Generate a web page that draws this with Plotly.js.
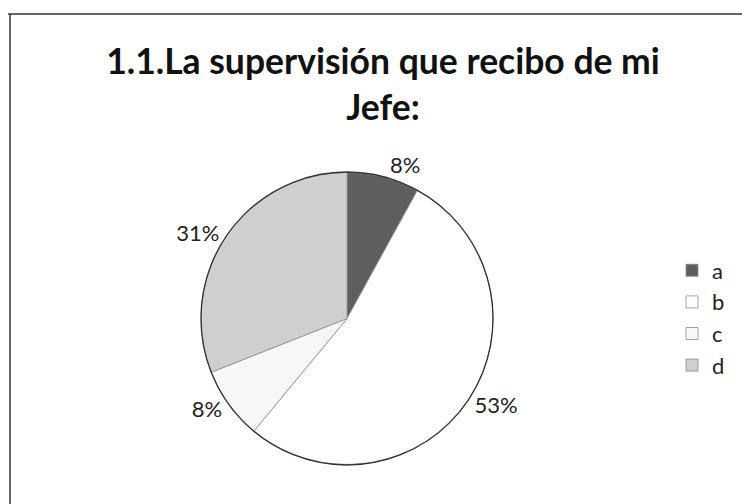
<!DOCTYPE html>
<html>
<head>
<meta charset="utf-8">
<script src="https://cdn.plot.ly/plotly-3.0.1.min.js"></script>
<style>html,body{margin:0;padding:0;background:#fff;}</style>
</head>
<body>
<div id="chart" style="width:742px;height:504px;"></div>
<script>
var categories = ['a', 'b', 'c', 'd'];
var percentages = [8, 53, 8, 31];
var sliceColors = ['#5e5e5e', '#ffffff', '#f7f7f7', '#cfcfcf'];
var chartTitle = '1.1.La supervisión que recibo de mi<br>Jefe:';

var pieDomainX = [201 / 742, 493 / 742];
var pieDomainY = [1 - 465 / 504, 1 - 172 / 504];

var trace = {
  type: 'pie',
  labels: categories,
  values: percentages,
  sort: false,
  direction: 'clockwise',
  rotation: 0,
  textinfo: 'percent',
  texttemplate: '%{percent:.0%}',
  textposition: 'outside',
  textfont: {family: 'Lato, "Open Sans", sans-serif', size: 22, color: '#222'},
  marker: {colors: sliceColors, line: {color: '#8a8a8a', width: 0.8}},
  domain: {x: pieDomainX, y: pieDomainY},
  hoverinfo: 'label+percent'
};

var layout = {
  width: 742,
  height: 504,
  margin: {l: 0, r: 0, t: 0, b: 0},
  paper_bgcolor: '#ffffff',
  plot_bgcolor: '#ffffff',
  title: {
    text: chartTitle,
    font: {family: 'Lato, "Open Sans", sans-serif', size: 35.5, color: '#111', weight: 'bold'},
    x: 383 / 742,
    xanchor: 'center',
    y: 1 - 74 / 504,
    yanchor: 'middle'
  },
  showlegend: true,
  legend: {
    x: 672 / 742,
    xanchor: 'left',
    y: 1 - 318 / 504,
    yanchor: 'middle',
    font: {family: 'Lato, "Open Sans", sans-serif', size: 22, color: '#222'},
    bgcolor: 'rgba(0,0,0,0)'
  },
  shapes: [
    {type: 'circle', xref: 'paper', yref: 'paper',
     x0: pieDomainX[0], x1: pieDomainX[1], y0: pieDomainY[0], y1: pieDomainY[1],
     line: {color: '#333', width: 1.3}},
    {type: 'line', xref: 'paper', yref: 'paper', x0: 8 / 742, x1: 1, y0: 1 - 14 / 504, y1: 1 - 14 / 504,
     line: {color: '#333', width: 1.5}},
    {type: 'line', xref: 'paper', yref: 'paper', x0: 10 / 742, x1: 10 / 742, y0: 0, y1: 1 - 14 / 504,
     line: {color: '#333', width: 1.5}}
  ]
};

Plotly.newPlot('chart', [trace], layout, {displayModeBar: false, staticPlot: true});
</script>
</body>
</html>
